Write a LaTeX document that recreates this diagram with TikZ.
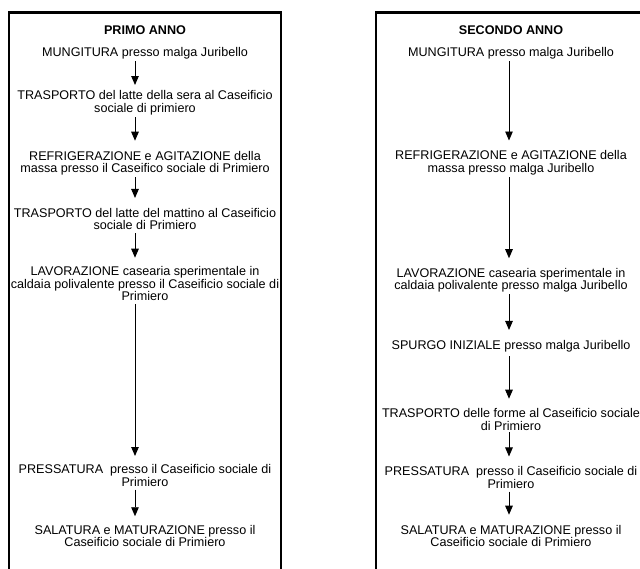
\documentclass[tikz,border=0pt]{standalone}
\usepackage{fontspec}
\setmainfont{Liberation Sans}
\usetikzlibrary{positioning, arrows.meta}

\begin{document}
\begin{tikzpicture}[x=1pt, y=1pt,
  stage/.style={align=center, inner sep=0pt, font=\fontsize{12.6}{12.5}\selectfont},
  title/.style={stage, font=\fontsize{12.6}{12.5}\selectfont\bfseries},
  flow/.style={-{Triangle[width=7.5pt,length=9pt]}, line width=0.9pt, shorten <=2pt, shorten >=10pt},
  frame/.style={line width=2.7pt}]
\useasboundingbox (0,0) rectangle (640,-569);
\clip (0,0) rectangle (640,-569);

\draw[frame] (9,-600) -- (9,-12.5) -- (281,-12.5) -- (281,-600);
\draw[frame] (376,-600) -- (376,-12.5) -- (660,-12.5);

\node[title] (p0) at (145,-30) {PRIMO ANNO};
\node[stage, below=12.6pt of p0] (p1) {MUNGITURA presso malga Juribello};
\node[stage, below=31.1pt of p1] (p2) {TRASPORTO del latte della sera al Caseificio\\sociale di primiero};
\node[stage, below=35.6pt of p2] (p3) {REFRIGERAZIONE e AGITAZIONE della\\massa presso il Caseifico sociale di Primiero};
\node[stage, below=32.6pt of p3] (p4) {TRASPORTO del latte del mattino al Caseificio\\sociale di Primiero};
\node[stage, below=36.1pt of p4] (p5) {LAVORAZIONE casearia sperimentale in\\caldaia polivalente presso il Caseificio sociale di\\Primiero};
\node[stage, below=163.6pt of p5] (p6) {PRESSATURA\ \ presso il Caseificio sociale di\\Primiero};
\node[stage, below=38.1pt of p6] (p7) {SALATURA e MATURAZIONE presso il\\Caseificio sociale di Primiero};

\node[title] (s0) at (511,-30) {SECONDO ANNO};
\node[stage, below=12.6pt of s0] (s1) {MUNGITURA presso malga Juribello};
\node[stage, below=91.1pt of s1] (s2) {REFRIGERAZIONE e AGITAZIONE della\\massa presso malga Juribello};
\node[stage, below=92.6pt of s2] (s3) {LAVORAZIONE casearia sperimentale in\\caldaia polivalente presso malga Juribello};
\node[stage, below=47.6pt of s3] (s4) {SPURGO INIZIALE presso malga Juribello};
\node[stage, below=56.1pt of s4] (s5) {TRASPORTO delle forme al Caseificio sociale\\di Primiero};
\node[stage, below=36.1pt of s5] (s6) {PRESSATURA\ \ presso il Caseificio sociale di\\Primiero};
\node[stage, below=36.1pt of s6] (s7) {SALATURA e MATURAZIONE presso il\\Caseificio sociale di Primiero};

\coordinate (pa) at (135,0);
\coordinate (sa) at (509,0);

\draw[flow, shorten >=5.5pt] (p1.south -| pa) -- (p2.north -| pa);
\draw[flow] (p2.south -| pa) -- (p3.north -| pa);
\draw[flow] (p3.south -| pa) -- (p4.north -| pa);
\draw[flow, shorten <=3pt, shorten >=8.5pt] (p4.south -| pa) -- (p5.north -| pa);
\draw[flow, shorten <=3pt, shorten >=8.5pt] (p5.south -| pa) -- (p6.north -| pa);
\draw[flow, shorten <=3pt, shorten >=8.5pt] (p6.south -| pa) -- (p7.north -| pa);

\draw[flow] (s1.south -| sa) -- (s2.north -| sa);
\draw[flow, shorten >=9.5pt] (s2.south -| sa) -- (s3.north -| sa);
\draw[flow] (s3.south -| sa) -- (s4.north -| sa);
\draw[flow, shorten <=4pt, shorten >=9.5pt] (s4.south -| sa) -- (s5.north -| sa);
\draw[flow] (s5.south -| sa) -- (s6.north -| sa);
\draw[flow, shorten <=3pt] (s6.south -| sa) -- (s7.north -| sa);
\end{tikzpicture}
\end{document}
